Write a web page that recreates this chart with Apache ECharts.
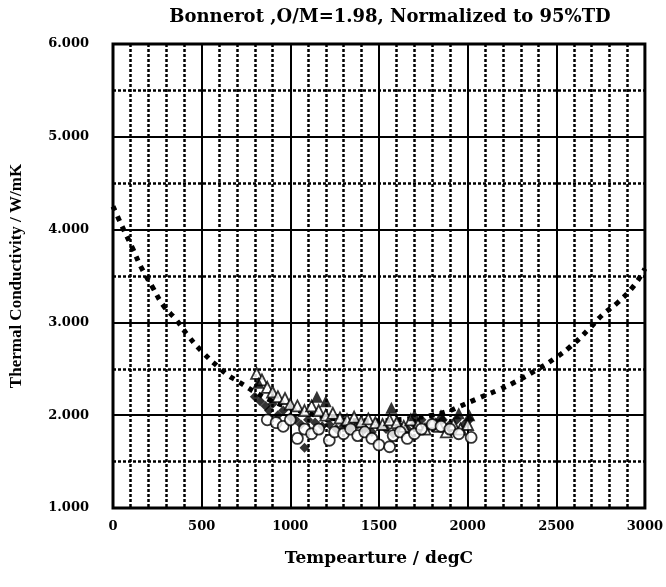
<!DOCTYPE html>
<html><head><meta charset="utf-8">
<script src="https://cdn.jsdelivr.net/npm/echarts@6/dist/echarts.min.js"></script>
<style>html,body{margin:0;padding:0;background:#fff}#c{width:666px;height:587px}</style>
</head><body><div id="c"></div>
<script>
const titleText = 'Bonnerot ,O/M=1.98, Normalized to 95%TD';
const xName = 'Tempearture / degC';
const yName = 'Thermal Conductivity / W/mK';
const xTicks = [0, 500, 1000, 1500, 2000, 2500, 3000];
const yTicks = [1, 2, 3, 4, 5, 6];

// fitted curve (dotted)
const curveT = [0, 60, 110, 160, 220, 285, 360, 430, 515, 600, 650, 700, 750, 800, 900, 1000, 1100, 1200, 1300, 1400, 1500, 1600, 1700, 1800, 1900, 1950, 2070, 2170, 2270, 2390, 2490, 2580, 2680, 2760, 2850, 2940, 3000];
const curveK = [4.25, 4.00, 3.80, 3.59, 3.39, 3.18, 3.02, 2.84, 2.66, 2.51, 2.43, 2.37, 2.31, 2.25, 2.15, 2.08, 2.02, 1.98, 1.95, 1.94, 1.94, 1.95, 1.97, 2.00, 2.05, 2.09, 2.19, 2.27, 2.36, 2.49, 2.61, 2.74, 2.92, 3.08, 3.22, 3.40, 3.58];

// filled diamonds
const diaT = [800, 830, 860, 880, 900, 930, 960, 1000, 1030, 1060, 1080, 1100, 1140, 1180, 1220, 1260, 1300, 1340, 1380, 1420, 1460, 1500, 1540, 1580, 1620, 1660, 1700, 1740, 1780, 1820, 1860, 1900, 1940, 1980, 2010];
const diaK = [2.20, 2.15, 2.10, 2.05, 2.12, 2.00, 2.05, 1.98, 1.95, 1.90, 1.65, 1.95, 1.92, 1.88, 1.90, 1.85, 1.88, 1.86, 1.90, 1.85, 1.82, 1.88, 1.85, 1.80, 1.88, 1.85, 1.90, 1.95, 1.88, 1.92, 1.95, 1.90, 1.95, 1.90, 1.95];

// filled triangles
const ftriT = [820, 1150, 1200, 1570, 1700, 1850, 1950, 2010];
const ftriK = [2.35, 2.20, 2.15, 2.08, 2.00, 2.00, 2.02, 2.00];

// open triangles
const otriT = [810, 840, 870, 900, 930, 970, 1000, 1040, 1080, 1120, 1160, 1200, 1240, 1280, 1320, 1360, 1400, 1440, 1480, 1520, 1560, 1600, 1640, 1680, 1720, 1760, 1800, 1840, 1880, 1920, 1960, 2000];
const otriK = [2.45, 2.38, 2.30, 2.25, 2.20, 2.18, 2.12, 2.10, 2.05, 2.10, 2.05, 2.00, 2.02, 1.97, 1.95, 1.98, 1.93, 1.96, 1.92, 1.90, 1.95, 1.92, 1.88, 1.95, 1.90, 1.85, 1.92, 1.88, 1.82, 1.90, 1.85, 1.90];

// open circles
const circT = [870, 920, 960, 1000, 1040, 1080, 1120, 1160, 1220, 1250, 1300, 1340, 1380, 1420, 1460, 1500, 1560, 1580, 1620, 1660, 1700, 1740, 1800, 1850, 1900, 1950, 2020];
const circK = [1.95, 1.92, 1.88, 1.95, 1.75, 1.85, 1.80, 1.85, 1.73, 1.82, 1.80, 1.85, 1.78, 1.82, 1.75, 1.68, 1.66, 1.78, 1.82, 1.75, 1.80, 1.85, 1.90, 1.88, 1.85, 1.80, 1.76];

const zip = (a, b) => a.map((v, i) => [v, b[i]]);
const SERIF = '"Liberation Serif", "DejaVu Serif", serif';
const WIDE = '"DejaVu Serif", "Liberation Serif", serif';
const minorStyle = {color: '#000', width: 2.5, type: [3, 2], opacity: 1};

const chart = echarts.init(document.getElementById('c'), null, {renderer: 'canvas'});
chart.setOption({
  backgroundColor: '#fff',
  animation: false,
  title: {
    text: titleText, left: 385, textAlign: 'center', top: 3,
    textStyle: {fontFamily: WIDE, fontWeight: 'bold', fontSize: 18, color: '#000'}
  },
  grid: {left: 112, right: 18, top: 44, bottom: 79, show: true, borderColor: '#000', borderWidth: 3, backgroundColor: 'transparent'},
  xAxis: {
    type: 'value', min: xTicks[0], max: xTicks[xTicks.length - 1], interval: 500,
    name: xName, nameLocation: 'middle', nameGap: 42,
    nameTextStyle: {fontFamily: WIDE, fontWeight: 'bold', fontSize: 17, color: '#000'},
    axisLine: {show: false}, axisTick: {show: false},
    axisLabel: {margin: 12, fontFamily: WIDE, fontWeight: 'bold', fontSize: 13, color: '#000',
      formatter: v => String(v)},
    splitLine: {show: true, lineStyle: {color: '#000', width: 2}},
    minorTick: {show: false, splitNumber: 5},
    minorSplitLine: {show: true, lineStyle: minorStyle}
  },
  yAxis: {
    type: 'value', min: yTicks[0], max: yTicks[yTicks.length - 1], interval: 1,
    name: yName, nameLocation: 'middle', nameGap: 88, nameRotate: 90,
    nameTextStyle: {fontFamily: SERIF, fontWeight: 'bold', fontSize: 17, color: '#000'},
    axisLine: {show: false}, axisTick: {show: false},
    axisLabel: {margin: 24, fontFamily: WIDE, fontWeight: 'bold', fontSize: 13, color: '#000',
      formatter: v => v.toFixed(3)},
    splitLine: {show: true, lineStyle: {color: '#000', width: 2}},
    minorTick: {show: false, splitNumber: 2},
    minorSplitLine: {show: true, lineStyle: minorStyle}
  },
  series: [
    {type: 'line', data: zip(curveT, curveK), smooth: true, symbol: 'none',
      lineStyle: {color: '#000', width: 5, type: [5, 6]}, z: 2},
    {type: 'scatter', data: zip(diaT, diaK), symbol: 'diamond', symbolSize: 10,
      itemStyle: {color: '#000'}, z: 3},
    {type: 'scatter', data: zip(otriT, otriK), symbol: 'triangle', symbolSize: 11,
      itemStyle: {color: '#fff', borderColor: '#000', borderWidth: 1.8}, z: 4},
    {type: 'scatter', data: zip(ftriT, ftriK), symbol: 'triangle', symbolSize: 12,
      itemStyle: {color: '#000'}, z: 4},
    {type: 'scatter', data: zip(circT, circK), symbol: 'circle', symbolSize: 11,
      itemStyle: {color: '#fff', borderColor: '#000', borderWidth: 1.8}, z: 5}
  ]
});
</script></body></html>
